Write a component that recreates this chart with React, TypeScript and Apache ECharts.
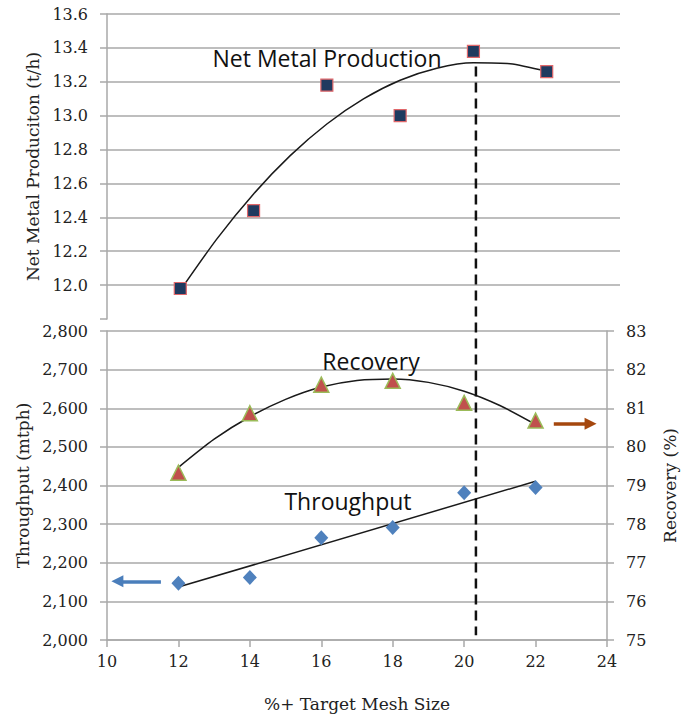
import React, { useEffect, useRef } from "react";
import * as echarts from "echarts";

// ---- data ----
const meshSizes = [12, 14, 16, 18, 20, 22];
const netMetal = [11.98, 12.44, 13.18, 13.0, 13.38, 13.26];
const netMetalTrendX = [12, 13, 14, 15, 16, 17, 18, 19, 20, 21, 22];
const netMetalTrend = [11.969, 12.273, 12.538, 12.764, 12.951, 13.099, 13.209, 13.28, 13.312, 13.306, 13.261];
const recovery = [79.33, 80.87, 81.61, 81.71, 81.14, 80.68];
const recoveryTrendX = [12, 13, 14, 15, 16, 17, 18, 19, 20, 21, 22];
const recoveryTrend = [79.47, 80.2, 80.78, 81.23, 81.55, 81.72, 81.76, 81.67, 81.44, 81.07, 80.58];
const throughput = [2147, 2162, 2265, 2291, 2381, 2395];
const throughputTrendX = [12, 22];
const throughputTrend = [2137, 2411];
const optimumMesh = 20.33;
const leftArrow = [
  [10.29, 2152],
  [11.51, 2152],
];
const rightArrow = [
  [22.51, 80.6],
  [23.54, 80.6],
];

const GRID = "#a9a9a9";
const SERIF = "DejaVu Serif";
const SANS = "Open Sans";

const zip = (xs: number[], ys: number[]) => xs.map((x, i) => [x, ys[i]]);

export default function App() {
  const ref = useRef<HTMLDivElement>(null);
  useEffect(() => {
    if (!ref.current) return;
    const chart = echarts.init(ref.current, undefined, { renderer: "svg" });
    const labelStyle = { fontFamily: SERIF, fontSize: 16, color: "#222" };
    const nameStyle = { fontFamily: SERIF, fontSize: 17, color: "#222" };
    const axisLine = { show: true, lineStyle: { color: GRID, width: 1.5 } };
    const axisTick = { show: true, inside: false, length: 7, lineStyle: { color: GRID, width: 1.5 } };
    const option: any = {
      animation: false,
      backgroundColor: "#fff",
      grid: [
        { left: 107, top: 14, width: 513, height: 305 },
        { left: 107, top: 331, width: 507, height: 309 },
      ],
      xAxis: [
        { type: "value", gridIndex: 0, min: 10, max: 24, interval: 2, show: false },
        {
          type: "value",
          gridIndex: 1,
          min: 10,
          max: 24,
          interval: 2,
          axisLine,
          axisTick,
          splitLine: { show: false },
          axisLabel: { ...labelStyle, margin: 13 },
          name: "%+ Target Mesh Size",
          nameLocation: "middle",
          nameGap: 55,
          nameTextStyle: nameStyle,
        },
      ],
      yAxis: [
        {
          type: "value",
          gridIndex: 0,
          min: 11.8,
          max: 13.6,
          interval: 0.2,
          axisLine,
          axisTick,
          splitLine: {
            show: true,
            lineStyle: {
              color: ["rgba(0,0,0,0)", GRID, GRID, GRID, GRID, GRID, GRID, GRID, GRID, GRID],
              width: 1.5,
            },
          },
          axisLabel: {
            ...labelStyle,
            margin: 19,
            formatter: (v: number) => (v < 11.9 ? "" : v.toFixed(1)),
          },
          name: "Net Metal Produciton (t/h)",
          nameLocation: "middle",
          nameRotate: 90,
          nameGap: 66,
          nameTextStyle: nameStyle,
        },
        {
          type: "value",
          gridIndex: 1,
          min: 2000,
          max: 2800,
          interval: 100,
          axisLine,
          axisTick,
          splitLine: { show: true, lineStyle: { color: GRID, width: 1.5 } },
          axisLabel: {
            ...labelStyle,
            margin: 19,
            formatter: (v: number) => v.toLocaleString("en-US"),
          },
          name: "Throughput (mtph)",
          nameLocation: "middle",
          nameRotate: 90,
          nameGap: 72,
          nameTextStyle: nameStyle,
        },
        {
          type: "value",
          gridIndex: 1,
          position: "right",
          min: 75,
          max: 83,
          interval: 1,
          axisLine,
          axisTick,
          splitLine: { show: false },
          axisLabel: { ...labelStyle, margin: 19 },
          name: "Recovery (%)",
          nameLocation: "middle",
          nameRotate: 90,
          nameGap: 54,
          nameTextStyle: nameStyle,
        },
      ],
      series: [
        {
          type: "line",
          xAxisIndex: 0,
          yAxisIndex: 0,
          data: zip(netMetalTrendX, netMetalTrend),
          smooth: 0.25,
          showSymbol: false,
          lineStyle: { color: "#1a1a1a", width: 1.5 },
          z: 2,
          silent: true,
        },
        {
          type: "scatter",
          xAxisIndex: 0,
          yAxisIndex: 0,
          data: zip(meshSizes, netMetal),
          symbol: "rect",
          symbolSize: 12,
          itemStyle: { color: "#1f3a5f", borderColor: "#e0676a", borderWidth: 1.2, opacity: 1 },
          z: 3,
        },
        {
          type: "line",
          xAxisIndex: 1,
          yAxisIndex: 2,
          data: zip(recoveryTrendX, recoveryTrend),
          smooth: 0.25,
          showSymbol: false,
          lineStyle: { color: "#1a1a1a", width: 1.5 },
          z: 2,
          silent: true,
        },
        {
          type: "scatter",
          xAxisIndex: 1,
          yAxisIndex: 2,
          data: zip(meshSizes, recovery),
          symbol: "triangle",
          symbolSize: [15, 15],
          itemStyle: { color: "#c0504d", borderColor: "#9bbb59", borderWidth: 1.5, opacity: 1 },
          z: 3,
          markLine: {
            silent: true,
            symbol: ["none", "triangle"],
            symbolSize: [12, 12],
            label: { show: false },
            lineStyle: { color: "#a5470e", width: 3.5, type: "solid" },
            data: [[{ coord: rightArrow[0] }, { coord: rightArrow[1] }]],
          },
        },
        {
          type: "line",
          xAxisIndex: 1,
          yAxisIndex: 1,
          data: zip(throughputTrendX, throughputTrend),
          showSymbol: false,
          lineStyle: { color: "#1a1a1a", width: 1.5 },
          z: 2,
          silent: true,
        },
        {
          type: "scatter",
          xAxisIndex: 1,
          yAxisIndex: 1,
          data: zip(meshSizes, throughput),
          symbol: "diamond",
          symbolSize: [14, 15],
          itemStyle: { color: "#4f81bd", opacity: 1 },
          z: 3,
          markLine: {
            silent: true,
            symbol: ["triangle", "none"],
            symbolSize: [12, 12],
            label: { show: false },
            lineStyle: { color: "#4a7ebb", width: 3.5, type: "solid" },
            data: [[{ coord: leftArrow[0] }, { coord: leftArrow[1] }]],
          },
        },
      ],
    };
    chart.setOption(option);

    const xPix = chart.convertToPixel({ xAxisIndex: 1 }, optimumMesh) as number;
    const yTop = chart.convertToPixel({ yAxisIndex: 0 }, 13.29) as number;
    const yBot = chart.convertToPixel({ yAxisIndex: 1 }, 2012) as number;
    const textStyle = { fontFamily: SANS, fontSize: 23, fill: "#111", textAlign: "center", textVerticalAlign: "middle" };
    chart.setOption({
      graphic: [
        {
          type: "line",
          shape: { x1: xPix, y1: yTop, x2: xPix, y2: yBot },
          style: { stroke: "#111", lineWidth: 2.5, lineDash: [10, 6] },
          z: 10,
          silent: true,
        },
        { type: "text", x: 327, y: 58, style: { ...textStyle, text: "Net Metal Production" }, z: 11 },
        { type: "text", x: 371, y: 361, style: { ...textStyle, text: "Recovery" }, z: 11 },
        { type: "text", x: 348, y: 501, style: { ...textStyle, text: "Throughput" }, z: 11 },
      ],
    });

    return () => chart.dispose();
  }, []);
  return (
    <div
      ref={ref}
      style={{ position: "fixed", left: 0, top: 0, width: "686px", height: "717px", background: "#fff" }}
    />
  );
}
